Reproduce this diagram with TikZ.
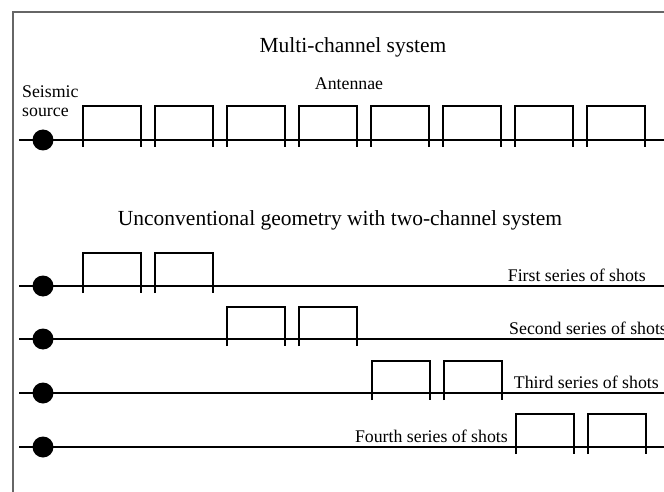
\documentclass[tikz,border=0pt]{standalone}
\usepackage{fontspec}
\setmainfont{Liberation Serif}
\begin{document}
\begin{tikzpicture}[x=1pt,y=-1pt,
  frameline/.style={draw=black!60,line width=1.6pt},
  baseline/.style={draw=black,line width=1.6pt},
  antenna/.style={draw=black,line width=1.3pt},
  srcdot/.style={ellipse,fill=black,inner sep=0pt,minimum width=20pt,minimum height=22pt},
  bigtext/.style={font=\fontsize{21.5}{24}\selectfont,inner sep=0pt},
  smalltext/.style={font=\fontsize{17.8}{20}\selectfont,inner sep=0pt}]
\useasboundingbox (0,0) rectangle (664,492);
% frame
\coordinate (fa) at (13,492);
\coordinate (fb) at (13,12);
\coordinate (fc) at (664,12);
\draw[frameline] (fa) -- (fb) -- (fc);
% titles
\node[bigtext,anchor=base] (t1) at (353,53) {Multi-channel system};
\node[bigtext,anchor=base] (t2) at (340,225) {Unconventional geometry with two-channel system};
\node[smalltext,anchor=base] (ant) at (349,90) {Antennae};
\node[smalltext,anchor=base west] (s1) at (22,98) {Seismic};
\node[smalltext,anchor=base west] (s2) at (22,117) {source};
% rows
\foreach \r/\y in {0/140,1/286,2/339,3/393,4/447}{
  \coordinate (l\r) at (19,\y);
  \coordinate (r\r) at (664,\y);
  \draw[baseline] (l\r) -- (r\r);
  \node[circle,fill=black,inner sep=0pt,minimum size=21pt] (d\r) at (43,\y) {};
}
% antennae boxes
\newcommand{\antbox}[3]{% x0, line y, top y
  \draw[antenna] (#1,#2+7) -- (#1,#3) -- (#1+58,#3) -- (#1+58,#2+7);}
\foreach \k in {0,...,7}{\antbox{83+72*\k}{140}{106}}
\antbox{83}{286}{253}\antbox{155}{286}{253}
\antbox{227}{339}{307}\antbox{299}{339}{307}
\antbox{372}{393}{361}\antbox{444}{393}{361}
\antbox{516}{447}{414}\antbox{588}{447}{414}
% row labels
\node[smalltext,anchor=base east] (L1) at (646,281) {First series of shots};
\node[smalltext,anchor=base west] (L2) at (509,334) {Second series of shots};
\node[smalltext,anchor=base east] (L3) at (659,388) {Third series of shots};
\node[smalltext,anchor=base east] (L4) at (508,442) {Fourth series of shots};
\end{tikzpicture}
\end{document}
